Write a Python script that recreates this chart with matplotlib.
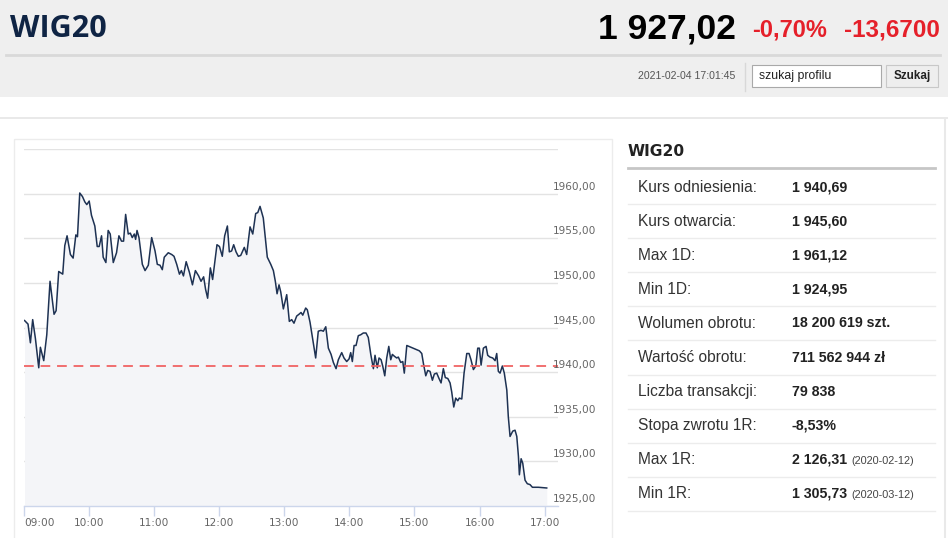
import matplotlib.pyplot as plt
from matplotlib.patches import Rectangle
from matplotlib.transforms import blended_transform_factory, ScaledTranslation

# intraday WIG20 quotes, minutes after 09:00
minutes = [0.5, 3.7, 5.9, 8.0, 10.5, 13.6, 15.1, 18.2, 21.0, 24.0, 27.7, 29.6, 32.0, 35.7,
           37.6, 39.7, 42.8, 45.3, 47.8, 49.3, 51.4, 53.9, 56.1, 57.9, 60.1, 62.2, 65.3,
           67.5, 69.3, 71.5, 73.0, 75.5, 77.6, 79.5, 82.3, 85.3, 87.5, 89.9, 91.8, 93.7,
           96.1, 98.0, 99.8, 101.7, 102.9, 104.2, 106.0, 109.1, 111.6, 114.6, 117.7,
           120.8, 122.9, 125.4, 127.5, 129.3, 133.0, 136.2, 138.3, 140.8, 143.3, 145.1,
           147.0, 149.5, 152.5, 155.3, 158.0, 161.0, 163.2, 165.6, 167.4, 169.3, 171.8,
           173.9, 177.9, 180.2, 182.8, 185.0, 187.5, 189.3, 191.4, 193.3, 195.5, 197.6,
           199.8, 203.1, 205.3, 208.4, 210.9, 213.6, 215.5, 217.6, 220.6, 222.5, 224.3,
           227.5, 229.9, 231.7, 233.3, 235.1, 236.7, 239.1, 242.2, 244.6,
           246.8, 248.9, 251.4, 253.5, 255.4, 257.0, 259.7, 261.2, 263.7, 266.2, 268.9,
           271.3, 273.8, 276.0, 278.2, 280.6, 283.1, 285.2, 287.7, 289.8, 292.9, 295.0,
           297.5, 299.7, 301.2, 302.7, 304.3, 306.1, 308.2, 310.4, 312.8, 315.3, 317.4,
           319.7, 322.1, 323.6, 325.7, 327.3, 329.2, 330.7, 332.6, 334.4, 336.3, 338.1,
           339.6, 341.4, 343.6, 345.1, 347.3, 349.2, 350.6, 352.9, 364.5,
           366.7, 368.2, 370.4, 372.2, 374.3, 376.5, 378.3, 380.5, 382.6, 384.5, 386.6,
           388.4, 390.7, 392.8, 394.3, 396.2, 398.0, 399.9, 401.3, 403.6, 405.7, 408.2,
           410.3, 412.1, 414.3, 416.5, 418.3, 419.8, 421.4, 423.5, 426.0, 427.5, 429.6,
           432.1, 434.3, 435.8, 437.3, 438.9, 441.0, 442.8, 445.1, 446.5, 448.1, 450.6,
           452.7, 454.3, 455.8, 456.7, 458.3, 459.8, 461.9, 464.0, 466.5, 468.7, 474.2,
           481.9]
prices = [1945.8, 1945.4, 1943.3, 1945.9, 1943.8, 1940.5, 1942.8, 1941.3, 1944.2, 1950.2,
          1946.5, 1946.9, 1951.3, 1951.0, 1954.2, 1955.3, 1953.2, 1952.8, 1955.4, 1955.2,
          1960.1, 1959.7, 1959.1, 1958.8, 1959.2, 1957.6, 1956.4, 1954.1, 1954.1, 1955.3,
          1952.9, 1952.3, 1955.9, 1955.5, 1952.3, 1953.4, 1955.3, 1954.7, 1954.7, 1957.7,
          1955.5, 1955.6, 1955.1, 1955.5, 1954.9, 1955.9, 1955.1, 1952.1, 1951.4, 1952.0,
          1955.1,
          1953.6, 1952.1, 1952.0, 1951.5, 1952.9, 1953.4, 1953.2, 1953.0, 1952.1, 1951.0,
          1951.4, 1950.8, 1952.4, 1951.2, 1949.8, 1951.4, 1950.8, 1950.2, 1950.7, 1949.3,
          1948.3, 1951.7, 1950.4, 1954.3, 1954.1, 1953.0, 1955.3, 1956.4, 1953.5, 1953.6,
          1954.3, 1953.5, 1953.0, 1953.1, 1954.0, 1953.2, 1956.3, 1955.5, 1957.8, 1957.9,
          1958.6, 1957.3, 1955.1, 1952.9, 1952.1, 1951.4, 1950.2, 1948.8, 1949.8, 1949.0,
          1947.1, 1948.7, 1945.7,
          1945.9, 1945.5, 1946.3, 1946.5, 1946.7, 1946.4, 1947.2, 1947.0, 1945.6, 1943.7,
          1941.6, 1944.6, 1944.7, 1944.6, 1945.1, 1942.7, 1942.0, 1941.1, 1940.4, 1941.4,
          1942.2, 1941.6, 1941.2, 1941.5, 1942.2, 1941.2, 1943.0, 1943.0, 1944.1, 1944.2,
          1944.4, 1944.4, 1943.9, 1942.0, 1940.4, 1941.9, 1940.5, 1941.6, 1941.4, 1940.7,
          1939.6, 1941.6, 1942.9, 1941.4, 1942.0, 1941.8, 1941.6, 1941.7, 1941.1, 1941.2,
          1939.9, 1943.0, 1942.4,
          1942.1, 1941.0, 1939.6, 1940.2, 1940.1, 1939.1, 1939.8, 1939.9, 1939.3, 1938.8,
          1940.4, 1939.4, 1939.3, 1938.8, 1937.8, 1936.1, 1937.1, 1936.8, 1937.1, 1937.0,
          1939.9, 1942.1, 1942.1, 1941.4, 1940.3, 1940.7, 1942.7, 1942.7, 1940.8, 1942.7,
          1942.9, 1941.9, 1941.7, 1941.6, 1941.3, 1942.1, 1940.1, 1939.9, 1940.7, 1939.9,
          1938.0, 1935.0, 1932.8, 1933.4, 1933.5, 1932.8, 1930.6, 1928.5, 1930.3, 1929.8,
          1927.9, 1927.5, 1927.4, 1927.1, 1927.1, 1927.02]

ref_level = 1940.69
y_ticks = [1925, 1930, 1935, 1940, 1945, 1950, 1955, 1960, 1965]
hour_ticks = [0, 60, 120, 180, 240, 300, 360, 420, 480]
hour_labels = ["09:00", "10:00", "11:00", "12:00", "13:00", "14:00", "15:00", "16:00", "17:00"]

table_labels = ["Kurs odniesienia:", "Kurs otwarcia:", "Max 1D:", "Min 1D:", "Wolumen obrotu:",
                "Wartość obrotu:", "Liczba transakcji:", "Stopa zwrotu 1R:", "Max 1R:", "Min 1R:"]
table_values = ["1 940,69", "1 945,60", "1 961,12", "1 924,95", "18 200 619 szt.",
                "711 562 944 zł", "79 838", "-8,53%", "2 126,31", "1 305,73"]
table_dates = ["", "", "", "", "", "", "", "", "(2020-02-12)", "(2020-03-12)"]

last_price = "1 927,02"
change_pct = "-0,70%"
change_abs = "-13,6700"
timestamp = "2021-02-04 17:01:45"

W, H = 948, 538
fig = plt.figure(figsize=(W / 100, H / 100), dpi=100)

# page layer in pixel coordinates
bg = fig.add_axes([0, 0, 1, 1])
bg.set_xlim(0, W)
bg.set_ylim(H, 0)
bg.axis("off")

bg.add_patch(Rectangle((0, 0), W, 97, color="#efefef", lw=0))
bg.add_patch(Rectangle((0, 116.5), W, 2.5, color="#e9e9e9", lw=0))
bg.plot([6, 940], [54.5, 54.5], color="#d9d9d9", lw=2)
bg.add_patch(Rectangle((14, 138.5), 598, 420, fill=False, ec="#ececec", lw=1))
bg.plot([945.5, 945.5], [119, H], color="#e9e9e9", lw=1.5)

navy = "#0f2444"
red = "#e5202a"
narrow = ["Liberation Sans Narrow", "Liberation Sans"]
bg.text(10, 29, "WIG20", fontsize=22, fontweight="bold", color=navy,
        family=["Open Sans", "DejaVu Sans"], va="center", ha="left")
bg.text(736, 29, last_price, fontsize=25.5, fontweight="bold", color="black",
        family=narrow, va="center", ha="right")
bg.text(752, 30, change_pct, fontsize=17, fontweight="bold", color=red,
        family=narrow, va="center", ha="left")
bg.text(940, 30, change_abs, fontsize=17.5, fontweight="bold", color=red,
        family=narrow, va="center", ha="right")

bg.text(735, 76, timestamp, fontsize=7.6, color="#555555",
        family=narrow, va="center", ha="right")
bg.plot([745, 745], [63, 91], color="#d8d8d8", lw=1)
bg.add_patch(Rectangle((752, 65), 129, 22, fc="white", ec="#a9a9a9", lw=0.8))
bg.text(759, 76, "szukaj profilu", fontsize=8.8, color="#222222",
        family=narrow, va="center", ha="left")
bg.add_patch(Rectangle((886, 65), 52, 22, fc="#eeeeee", ec="#c8c8c8", lw=0.8))
bg.text(912, 76, "Szukaj", fontsize=8.4, fontweight="bold", color="#222222",
        family=narrow, va="center", ha="center")

# quote table on the right
bg.text(628, 152, "WIG20", fontsize=11.2, fontweight="bold", color="#222222",
        family=["DejaVu Sans"], va="center", ha="left")
bg.plot([628, 935], [168, 168], color="#c6c6c6", lw=2)
row_y0, row_h = 187, 34.1
for i, (lab, val, dt) in enumerate(zip(table_labels, table_values, table_dates)):
    yc = row_y0 + i * row_h
    bg.text(638, yc, lab, fontsize=11.2, color="#333333",
            family=["Liberation Sans"], va="center", ha="left")
    bg.text(792, yc, val, fontsize=10.2, fontweight="bold", color="#222222",
            family=["Liberation Sans"], va="center", ha="left")
    if dt:
        bg.text(851, yc + 1, dt, fontsize=7.8, color="#444444",
                family=["Liberation Sans"], va="center", ha="left")
    bg.plot([628, 935], [yc + 17, yc + 17], color="#ececec", lw=1)

# price chart
x0_px, x1_px = 24, 558
y_top_px, y_bot_px = 149.3, 506
ax = fig.add_axes([x0_px / W, 1 - y_bot_px / H, (x1_px - x0_px) / W, (y_bot_px - y_top_px) / H])
ax.set_facecolor("none")
ax.set_xlim(0, 492.3)
ax.set_ylim(1925, 1965)

ax.fill_between(minutes, prices, 1925, color="#f4f5f8", lw=0, zorder=1)
ax.plot(minutes, prices, color="#1e3253", lw=1.1, zorder=3)
ax.axhline(ref_level, color="#f06060", lw=1.4, ls=(0, (5, 3.5)), alpha=0.9, zorder=4)

ax.set_yticks(y_ticks)
ax.set_yticklabels([])
ax.tick_params(axis="y", length=0)
ax.grid(axis="y", color="#e3e3e3", lw=1, zorder=0)
ax.set_axisbelow(True)

for side in ["top", "left", "right"]:
    ax.spines[side].set_visible(False)
ax.spines["bottom"].set_color("#ccd6eb")
ax.spines["bottom"].set_linewidth(1)

ax.set_xticks(hour_ticks)
ax.set_xticklabels(hour_labels)
ax.tick_params(axis="x", length=7, width=1, color="#ccd6eb", pad=1.5,
               labelsize=7.6, labelcolor="#666666")
ax.get_xticklabels()[0].set_horizontalalignment("left")

# right-hand value labels sit just above their gridlines
trans = blended_transform_factory(ax.transAxes, ax.transData) + \
    ScaledTranslation(-5 / 100, 2 / 100, fig.dpi_scale_trans)
for v in y_ticks[:-1]:
    ax.text(1.0, v, f"{v},00", transform=trans, fontsize=7.6, color="#666666",
            va="bottom", ha="left", zorder=5)

fig.savefig("out.png", dpi=100)
